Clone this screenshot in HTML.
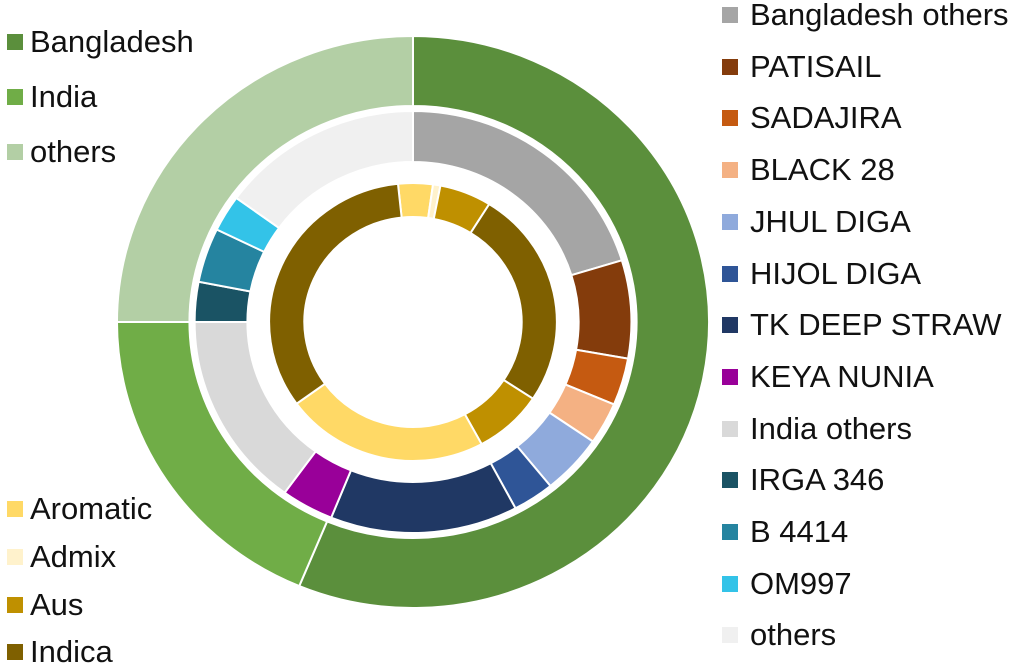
<!DOCTYPE html>
<html><head><meta charset="utf-8"><style>
html,body{margin:0;padding:0;background:#fff;}
body{width:1024px;height:665px;overflow:hidden;position:relative;font-family:"Liberation Sans",sans-serif;}
.lg{position:absolute;font-size:31px;color:#111;white-space:nowrap;line-height:36px;}
.lg i{position:absolute;width:16px;height:16px;top:10px;}
</style></head><body>
<svg id="c" width="1024" height="665" style="position:absolute;left:0;top:0"></svg>
<div id="L"></div>
<script>
var cx=413,cy=322,sx=1.035;
function pt(r,a){a=a*Math.PI/180;return [cx+sx*r*Math.sin(a),cy-r*Math.cos(a)];}
function arc(r1,r2,a1,a2,col){
 var l=(a2-a1)>180?1:0,p1=pt(r2,a1),p2=pt(r2,a2),p3=pt(r1,a2),p4=pt(r1,a1);
 return '<path d="M'+p1+' A'+(r2*sx)+','+r2+' 0 '+l+' 1 '+p2+' L'+p3+' A'+(r1*sx)+','+r1+' 0 '+l+' 0 '+p4+'Z" fill="'+col+'" stroke="#fff" stroke-width="2"/>';}
var s='';
function ring(r1,r2,segs){for(var i=0;i<segs.length;i++){s+=arc(r1,r2,segs[i][0],segs[i][1],segs[i][2]);}}
ring(216,286,[[0,202.6,'#5b8f3c'],[202.6,270,'#70ad47'],[270,360,'#b3cfa5']]);
ring(160,211,[[0,73,'#a5a5a5'],[73,100,'#843c0c'],[100,113,'#c55a11'],[113,124.5,'#f4b183'],[124.5,141,'#8faadc'],[141,152,'#2f5597'],[152,202,'#203864'],[202,216,'#990099'],[216,270,'#d9d9d9'],[270,281,'#1a5364'],[281,296,'#2584a0'],[296,306,'#33c3e8'],[306,360,'#f0f0f0']]);
ring(105,139,[[-6,8,'#ffd966'],[8,11,'#fff2cc'],[11,32,'#bf9000'],[32,123.5,'#7f6000'],[123.5,151.5,'#bf9000'],[151.5,234,'#ffd966'],[234,354,'#7f6000']]);
document.getElementById('c').innerHTML=s;
var h='';
function lg(x,y,col,t,g){h+='<div class="lg" style="left:'+(x+g)+'px;top:'+(y-18)+'px"><i style="left:-'+g+'px;background:'+col+'"></i>'+t+'</div>';}
lg(7,42,'#5b8f3c','Bangladesh',23);lg(7,97,'#70ad47','India',23);lg(7,152,'#b3cfa5','others',23);
lg(7,509,'#ffd966','Aromatic',23);lg(7,557,'#fff2cc','Admix',23);lg(7,605,'#bf9000','Aus',23);lg(7,652,'#7f6000','Indica',23);
var R=[['#a5a5a5','Bangladesh others'],['#843c0c','PATISAIL'],['#c55a11','SADAJIRA'],['#f4b183','BLACK 28'],['#8faadc','JHUL DIGA'],['#2f5597','HIJOL DIGA'],['#203864','TK DEEP STRAW'],['#990099','KEYA NUNIA'],['#d9d9d9','India others'],['#1a5364','IRGA 346'],['#2584a0','B 4414'],['#33c3e8','OM997'],['#f0f0f0','others']];
for(var i=0;i<R.length;i++)lg(722,15+i*51.7,R[i][0],R[i][1],28);
document.getElementById('L').innerHTML=h;
</script>
</body></html>
